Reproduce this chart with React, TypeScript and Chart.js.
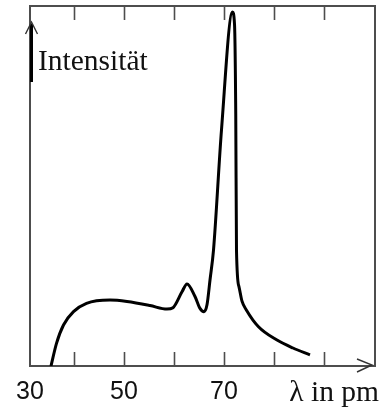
import React, { useEffect, useRef } from "react";
import { Chart, registerables } from "chart.js";

Chart.register(...registerables);

const wavelengths = [35.4, 36.5, 37.9, 39.9, 42.5, 47.2, 50.6, 55.2, 58.6, 59.8, 61.6, 62.6, 64.2, 65.2, 66.0, 66.6, 67.2, 67.9, 69.5, 71.7, 72.1, 72.35, 72.5, 73.0, 73.6, 74.5, 76.9, 80.6, 83.8, 87.2];
const intensities = [0, 6.3, 11.4, 15.1, 17.4, 18.3, 17.9, 16.8, 15.8, 16.2, 20.6, 22.8, 19.3, 16.0, 15.1, 17.0, 23.9, 32.2, 65.6, 98.3, 95, 70, 32, 22, 18, 15.5, 10.9, 7.2, 5.0, 3.1];
const tickMarks = [40, 50, 60, 70, 80, 90];
const tickLabels = [30, 50, 70];
const xTitle = "λ in pm";
const yTitle = "Intensität";

const framePlugin = {
  id: "frame",
  beforeDatasetsDraw(chart: any) {
    const { ctx, chartArea: a, scales } = chart;
    const x = scales.x;
    ctx.save();
    ctx.strokeStyle = "#4d4d4d";
    ctx.lineWidth = 2;
    ctx.strokeRect(a.left, a.top, a.right - a.left, a.bottom - a.top);
    ctx.lineWidth = 1.6;
    for (const v of tickMarks) {
      const px = Math.round(x.getPixelForValue(v)) + 0.5;
      ctx.beginPath();
      ctx.moveTo(px, a.bottom);
      ctx.lineTo(px, a.bottom - 14);
      ctx.moveTo(px, a.top);
      ctx.lineTo(px, a.top + 14);
      ctx.stroke();
    }
    // y arrow
    ctx.strokeStyle = "#000";
    ctx.lineWidth = 3;
    ctx.beginPath();
    ctx.moveTo(a.left + 1.5, 82);
    ctx.lineTo(a.left + 1.5, 24);
    ctx.stroke();
    ctx.lineWidth = 1.4;
    ctx.strokeStyle = "#333";
    ctx.beginPath();
    ctx.moveTo(a.left - 4.5, 34);
    ctx.lineTo(a.left + 1.5, 22);
    ctx.lineTo(a.left + 7.5, 34);
    ctx.stroke();
    // x arrow
    ctx.beginPath();
    ctx.moveTo(a.right - 18, a.bottom - 7);
    ctx.lineTo(a.right - 3, a.bottom - 1);
    ctx.lineTo(a.right - 18, a.bottom + 6);
    ctx.stroke();
    // labels
    ctx.fillStyle = "#111";
    ctx.font = "25px 'Liberation Sans'";
    ctx.textAlign = "center";
    ctx.textBaseline = "alphabetic";
    for (const v of tickLabels) {
      let px = x.getPixelForValue(v);
      if (px < a.left) px = a.left;
      ctx.fillText(String(v), px, 399);
    }
    ctx.font = "29.5px 'Liberation Serif'";
    ctx.textAlign = "right";
    ctx.fillText(xTitle, 379, 401);
    ctx.textAlign = "left";
    ctx.font = "29.5px 'Liberation Serif'";
    ctx.fillText(yTitle, 38, 70);
    ctx.restore();
  },
};

export default function App() {
  const ref = useRef<HTMLCanvasElement>(null);
  useEffect(() => {
    if (!ref.current) return;
    const chart = new Chart(ref.current, {
      type: "line",
      data: {
        datasets: [
          {
            data: wavelengths.map((w, i) => ({ x: w, y: intensities[i] })),
            borderColor: "#000",
            borderWidth: 3,
            pointRadius: 0,
            fill: false,
            cubicInterpolationMode: "monotone",
          },
        ],
      },
      options: {
        responsive: false,
        animation: false,
        layout: { padding: { left: 30, top: 6, right: 13, bottom: 41 } },
        plugins: { legend: { display: false }, tooltip: { enabled: false } },
        scales: {
          x: { type: "linear", min: 31.2, max: 100.2, display: false },
          y: { min: 0, max: 100, display: false },
        },
      },
      plugins: [framePlugin],
    });
    return () => chart.destroy();
  }, []);
  return (
    <div style={{ position: "fixed", left: 0, top: 0, width: 388, height: 407, background: "#fff" }}>
      <canvas ref={ref} width={388} height={407} />
    </div>
  );
}
